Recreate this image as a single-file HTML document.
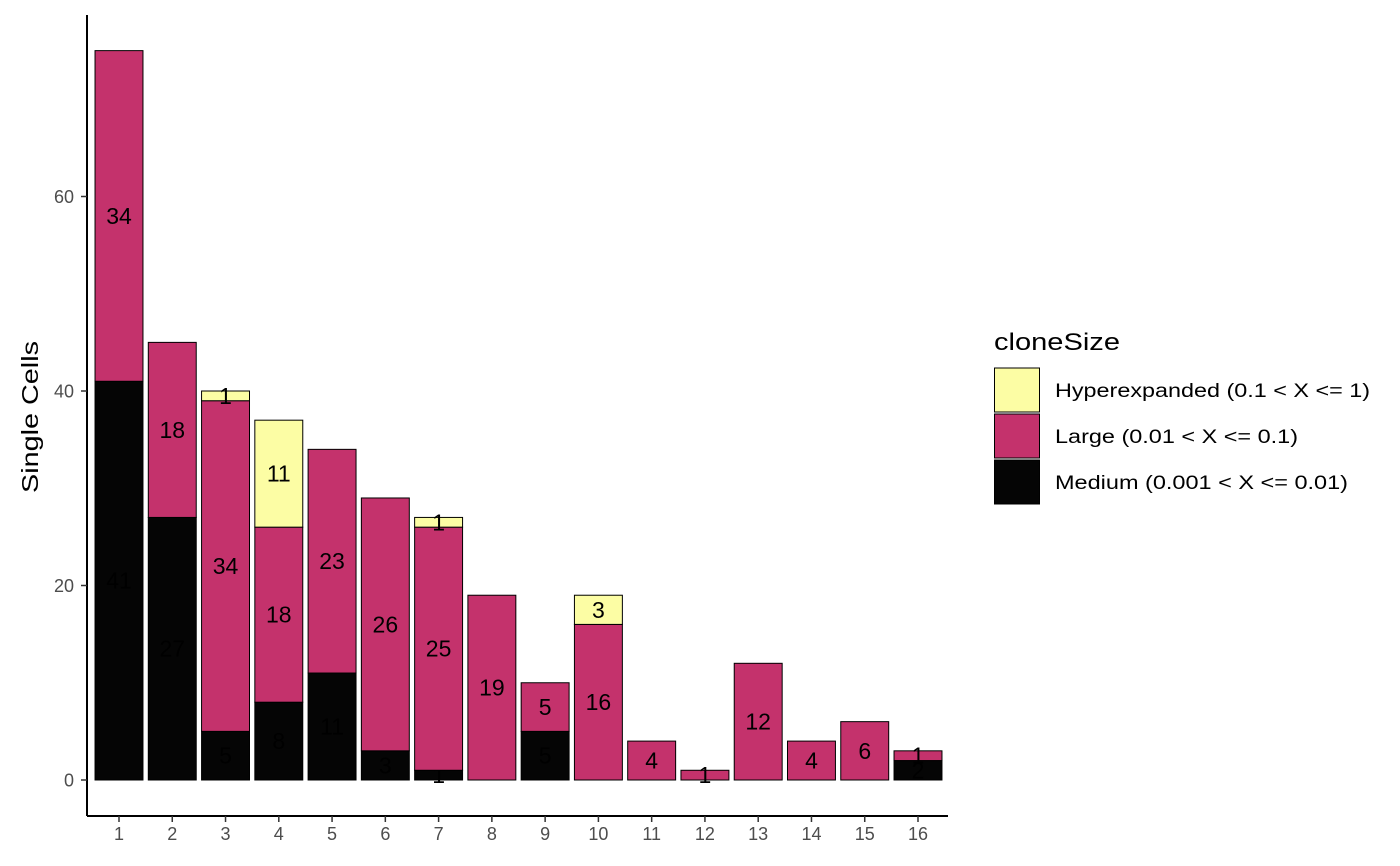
<!DOCTYPE html>
<html><head><meta charset="utf-8"><style>
html,body{margin:0;padding:0;background:#fff;}
svg{display:block;font-family:"Liberation Sans",Arial,sans-serif;}
</style></head><body>
<svg id="chart" width="1400" height="866" xmlns="http://www.w3.org/2000/svg"></svg>
<script>
const categories = ["1","2","3","4","5","6","7","8","9","10","11","12","13","14","15","16"];
const mediumValues = [41,27,5,8,11,3,1,0,5,0,0,0,0,0,0,2];
const largeValues = [34,18,34,18,23,26,25,19,5,16,4,1,12,4,6,1];
const hyperValues = [0,0,1,11,0,0,1,0,0,3,0,0,0,0,0,0];
const yTicks = [0,20,40,60];
const seriesNames = ["Hyperexpanded (0.1 < X <= 1)","Large (0.01 < X <= 0.1)","Medium (0.001 < X <= 0.01)"];
const seriesColors = ["#FCFDA4","#C4326C","#050505"];
const legendWidths = [315,243,293];

const NS="http://www.w3.org/2000/svg";
const svg=document.getElementById('chart');
function el(tag,attrs,parent){const e=document.createElementNS(NS,tag);for(const k in attrs)e.setAttribute(k,attrs[k]);(parent||svg).appendChild(e);return e;}
const x0=119, step=(918-119)/15, bw=step*0.9;
function xScale(i){return x0+i*step;}
function yScale(v){return 780-v*9.725;}

const yAxis=el('line',{x1:87,y1:15,x2:87,y2:816,stroke:'#000','stroke-width':2});


const xAxis=el('line',{x1:87,y1:816,x2:948,y2:816,stroke:'#000','stroke-width':2});



yTicks.forEach(t=>{
  const y=yScale(t);
  const tk=el('line',{x1:81,y1:y,x2:87,y2:y,stroke:'#333','stroke-width':1.5});
  
  
  const tx=el('text',{x:74,y:y+6.5,'text-anchor':'end','font-size':18,fill:'#4d4d4d'});
  tx.textContent=t;
  
  
});
const yt=el('text',{x:0,y:0,transform:'translate(38,493) rotate(-90)','font-size':23,fill:'#000',textLength:152,lengthAdjust:'spacingAndGlyphs'});
yt.textContent='Single Cells';



categories.forEach((c,i)=>{
  const x=xScale(i);
  const tk=el('line',{x1:x,y1:816,x2:x,y2:822,stroke:'#333','stroke-width':1.5});
  
  
  const tx=el('text',{x:x,y:840,'text-anchor':'middle','font-size':18,fill:'#4d4d4d'});
  tx.textContent=c;
  
  
  const segs=[[mediumValues[i],seriesColors[2],'medium'],[largeValues[i],seriesColors[1],'large'],[hyperValues[i],seriesColors[0],'hyper']];
  let base=0;
  segs.forEach(([v,col,nm])=>{
    if(v<=0)return;
    const yt=yScale(base+v), yb=yScale(base);
    const r=el('rect',{x:x-bw/2,y:yt,width:bw,height:yb-yt,fill:col,stroke:'#000','stroke-width':1});
    
    
    const lb=el('text',{x:x,y:(yt+yb)/2+8,'text-anchor':'middle','font-size':23,fill:'#000'});
    lb.textContent=v;
    
    
    base+=v;
  });
});

const lt=el('text',{x:994,y:350,'font-size':24,fill:'#000',textLength:126,lengthAdjust:'spacingAndGlyphs'});
lt.textContent='cloneSize';


seriesNames.forEach((n,k)=>{
  const y=368+k*46;
  const r=el('rect',{x:994.5,y:y,width:45,height:44,fill:seriesColors[k],stroke:'#000','stroke-width':1});
  
  
  const t=el('text',{x:1055,y:y+29,'font-size':19,fill:'#000',textLength:legendWidths[k],lengthAdjust:'spacingAndGlyphs'});
  t.textContent=n;
  
  
});
</script>
</body></html>
